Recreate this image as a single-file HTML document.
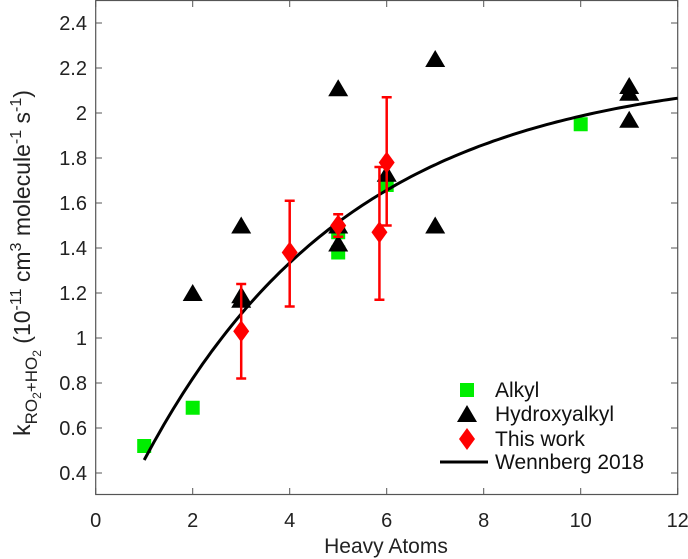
<!DOCTYPE html>
<html><head><meta charset="utf-8"><style>
html,body{margin:0;padding:0;background:#fff;}
svg{display:block;font-family:"Liberation Sans",Arial,sans-serif;}
</style></head><body>
<svg id="s" width="688" height="559" xmlns="http://www.w3.org/2000/svg"></svg>
<script>
const s=document.getElementById('s');
const X=v=>95.7+v*48.5, Y=v=>473-(v-0.4)*225;
let h='';
h+=`<rect x="95.7" y="0.5" width="582" height="494" fill="none" stroke="#555" stroke-width="1.2"/>`;
for(let i=0;i<=12;i+=2){const x=X(i);h+=`<line x1="${x}" y1="494" x2="${x}" y2="488" stroke="#555"/><line x1="${x}" y1="1" x2="${x}" y2="7" stroke="#555"/>`;
h+=`<text x="${x}" y="527" font-size="20" text-anchor="middle" fill="#222">${i}</text>`;}
for(let k=4;k<=24;k+=2){const v=k/10,y=Y(v);h+=`<line x1="95.7" y1="${y}" x2="102" y2="${y}" stroke="#555"/><line x1="677.7" y1="${y}" x2="671" y2="${y}" stroke="#555"/>`;
let t=(k%10==0)?String(k/10):v.toFixed(1);h+=`<text x="87" y="${y+7}" font-size="20" text-anchor="end" fill="#222">${t}</text>`;}
h+=`<text x="386" y="553" font-size="21" text-anchor="middle" fill="#222">Heavy Atoms</text>`;
h+=`<text transform="translate(30,263) rotate(-90)" font-size="23" text-anchor="middle" fill="#222">k<tspan font-size="17" dy="7">RO</tspan><tspan font-size="12" dy="4">2</tspan><tspan font-size="17" dy="-4">+HO</tspan><tspan font-size="12" dy="4">2</tspan><tspan dy="-11"> (10</tspan><tspan font-size="16" dy="-9">-11</tspan><tspan dy="9"> cm</tspan><tspan font-size="16" dy="-9">3</tspan><tspan dy="9"> molecule</tspan><tspan font-size="16" dy="-9">-1</tspan><tspan dy="9"> s</tspan><tspan font-size="16" dy="-9">-1</tspan><tspan dy="9">)</tspan></text>`;
const sq=(x,y)=>`<rect x="${x-7}" y="${y-7}" width="14" height="14" fill="#00ee00"/>`;
const tri=(x,y)=>`<polygon points="${x-10},${y+8} ${x+10},${y+8} ${x},${y-9}" fill="#000"/>`;
const dia=(x,y)=>`<polygon points="${x},${y-11} ${x+8},${y} ${x},${y+11} ${x-8},${y}" fill="#f00"/>`;
[[1,0.52],[2,0.69],[5,1.38],[5,1.47],[6,1.68],[10,1.95]].forEach(p=>h+=sq(X(p[0]),Y(p[1])));
[[2,1.2],[3,1.17],[3,1.19],[3,1.5],[5,1.42],[5,1.5],[5,2.11],[6,1.73],[7,2.24],[7,1.5],[11,2.12],[11,2.09],[11,1.97]].forEach(p=>h+=tri(X(p[0]),Y(p[1])));
let pts=[];for(let n=1;n<=12.001;n+=0.1){pts.push(X(n).toFixed(1)+','+Y(2.2-2.2*Math.pow(0.792,n)).toFixed(1));}
h+=`<polyline points="${pts.join(' ')}" fill="none" stroke="#000" stroke-width="3"/>`;
[[3,1.03,0.82,1.24],[4,1.38,1.14,1.61],[5,1.5,1.45,1.55],[5.85,1.47,1.17,1.76],[6,1.78,1.5,2.07]].forEach(p=>{
const x=X(p[0]);h+=`<g stroke="#f00" stroke-width="2.5"><line x1="${x}" y1="${Y(p[2])}" x2="${x}" y2="${Y(p[3])}"/><line x1="${x-5}" y1="${Y(p[2])}" x2="${x+5}" y2="${Y(p[2])}"/><line x1="${x-5}" y1="${Y(p[3])}" x2="${x+5}" y2="${Y(p[3])}"/></g>`;
h+=dia(x,Y(p[1]));});
h+=sq(467,390)+tri(467,414)+dia(467,439)+`<line x1="440" y1="462" x2="488" y2="462" stroke="#000" stroke-width="3"/>`;
[['Alkyl',397],['Hydroxyalkyl',421],['This work',446],['Wennberg 2018',469]].forEach(t=>h+=`<text x="495" y="${t[1]}" font-size="21" fill="#111">${t[0]}</text>`);
s.innerHTML=h;
</script>
</body></html>
